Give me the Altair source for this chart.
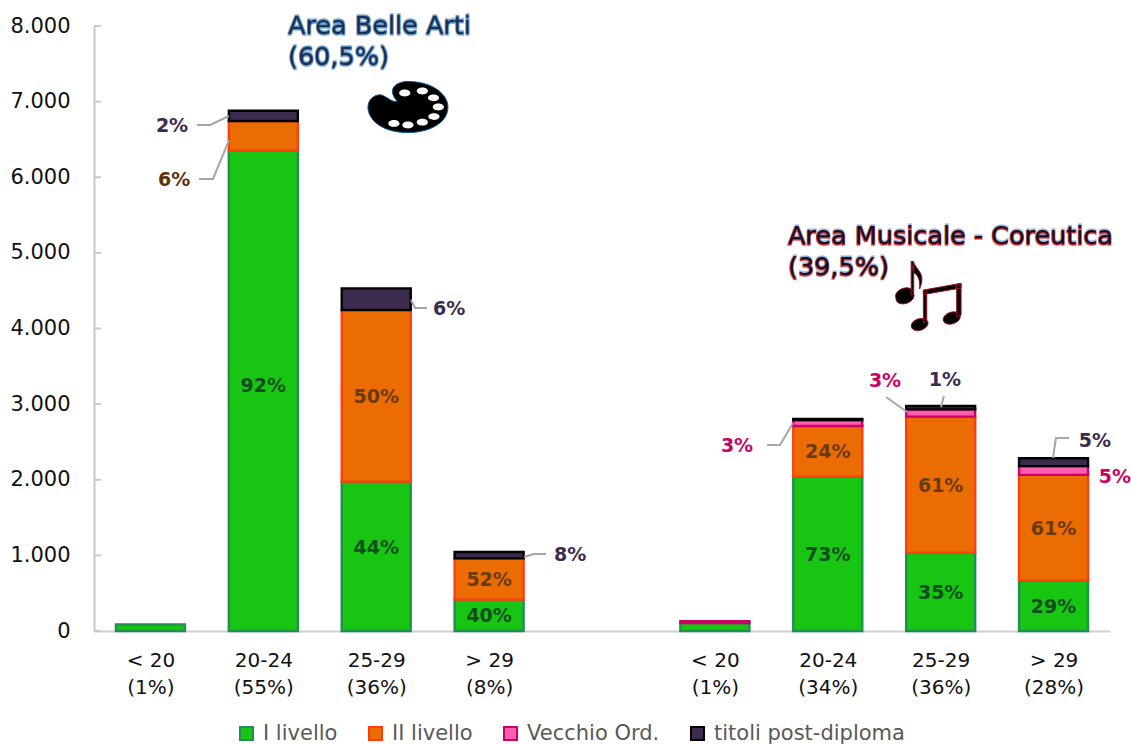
import json
import altair as alt
import pandas as pd

# Stacked enrolment counts by age band, two groups separated by an empty slot
series = ["I livello", "II livello", "Vecchio Ord.", "titoli post-diploma"]
fills = ["#19c513", "#ec6c04", "#ff5db1", "#3c2b4f"]
strokes = ["#1f9050", "#ff3d0f", "#cc0066", "#000000"]

slots = [0.5, 1.5, 2.5, 3.5, 5.5, 6.5, 7.5, 8.5]
ages = ["< 20", "20-24", "25-29", "> 29", "< 20", "20-24", "25-29", "> 29"]
age_shares = ["(1%)", "(55%)", "(36%)", "(8%)", "(1%)", "(34%)", "(36%)", "(28%)"]

level_1 = [85, 6350, 1975, 415, 105, 2040, 1035, 665]
level_2 = [0, 393, 2270, 545, 0, 670, 1800, 1400]
old_order = [0, 0, 0, 0, 25, 80, 95, 115]
post_diploma = [0, 137, 285, 85, 0, 15, 45, 105]
columns = [level_1, level_2, old_order, post_diploma]

# Share labels inside the segments: slot index, series index, text, colour, lift in axis units
inner_labels = [
    (1, 0, "92%", "#0f4f1c", 80), (2, 0, "44%", "#0f4f1c", 120), (3, 0, "40%", "#0f4f1c", 0),
    (5, 0, "73%", "#0f4f1c", 0), (6, 0, "35%", "#0f4f1c", 0), (7, 0, "29%", "#0f4f1c", 0),
    (2, 1, "50%", "#6b3a0c", 0), (3, 1, "52%", "#6b3a0c", 0), (5, 1, "24%", "#6b3a0c", 0),
    (6, 1, "61%", "#6b3a0c", 0), (7, 1, "61%", "#6b3a0c", 0),
]

# Callouts beside the bars, placed in axis units
callout_x = [0.691, 0.709, 3.145, 4.217, 5.696, 7.007, 7.538, 8.867, 9.044]
callout_y = [6691, 5977, 4271, 1018, 2460, 3319, 3332, 2526, 2050]
callout_text = ["2%", "6%", "6%", "8%", "3%", "3%", "1%", "5%", "5%"]
callout_color = ["#3c2b4f", "#5e3209", "#3c2b4f", "#3c2b4f", "#cc0066", "#cc0066",
                 "#3c2b4f", "#3c2b4f", "#cc0066"]

leader_paths = [
    [(0.912, 6691), (1.028, 6691), (1.196, 6810)],
    [(0.930, 5977), (1.054, 5977), (1.196, 6492)],
    [(2.808, 4377), (2.843, 4271), (2.950, 4271)],
    [(3.809, 979), (3.898, 1018), (4.004, 1018)],
    [(5.962, 2460), (6.077, 2460), (6.192, 2750)],
    [(7.016, 3094), (7.202, 2896)],
    [(7.529, 3107), (7.503, 2962)],
    [(8.495, 2288), (8.521, 2552), (8.637, 2552)],
]

group_titles = [
    (1.718, 8000, "Area Belle Arti", "#5f8fc4", "#5f8fc4", "#16304f"),
    (1.718, 7590, "(60,5%)", "#5f8fc4", "#5f8fc4", "#16304f"),
    (6.147, 5225, "Area Musicale - Coreutica", "#8fb0dc", "#c0202c", "#1a1020"),
    (6.147, 4815, "(39,5%)", "#8fb0dc", "#c0202c", "#1a1020"),
]

# Long table with one row per stacked segment
rows = []
for i, slot in enumerate(slots):
    for s, name in enumerate(series):
        rows.append({"slot": slot, "serie": name, "rank": s, "value": columns[s][i]})
bars = pd.DataFrame(rows)
bars = bars[bars["value"] > 0]

fill_scale = alt.Scale(domain=series, range=fills)
stroke_scale = alt.Scale(domain=series, range=strokes)
x_scale = alt.Scale(domain=[0, 9], nice=False, zero=False, padding=0)
y_scale = alt.Scale(domain=[0, 8000], nice=False)

tick_labels = [[a, b] for a, b in zip(ages, age_shares)]
label_expr = (
    "(" + json.dumps({str(int(s)): tick_labels[k] for k, s in enumerate(slots)}) + ")"
    "[floor(datum.value)]"
)

stack = alt.Chart(bars).mark_bar(orient="vertical", size=69, strokeWidth=2.4).encode(
    x=alt.X(
        "slot:Q", scale=x_scale, title=None,
        axis=alt.Axis(
            values=slots, labelExpr=label_expr, ticks=False, grid=False,
            domainColor="#d0d0d0", domainWidth=2, labelFontSize=20,
            labelFont="DejaVu Sans", labelColor="#111111", labelPadding=19,
            labelLineHeight=27, labelOverlap=False, labelBound=False,
        ),
    ),
    y=alt.Y(
        "value:Q", stack="zero", scale=y_scale, title=None,
        axis=alt.Axis(
            values=[0, 1000, 2000, 3000, 4000, 5000, 6000, 7000, 8000],
            labelExpr="replace(format(datum.value, ','), ',', '.')",
            ticks=False, grid=False, domainColor="#c8c8c8", domainWidth=2,
            labelFontSize=21, labelFont="DejaVu Sans", labelColor="#111111",
            labelPadding=24,
        ),
    ),
    order=alt.Order("rank:Q"),
    fill=alt.Fill(
        "serie:N", scale=fill_scale, sort=series,
        legend=alt.Legend(
            title=None, orient="none", legendX=142, legendY=697, direction="horizontal",
            columns=4, symbolType="square", symbolSize=169, symbolStrokeWidth=2,
            labelFont="DejaVu Sans", labelFontSize=21, labelColor="#595959",
            labelOffset=6, columnPadding=27, labelLimit=300,
        ),
    ),
    stroke=alt.Stroke("serie:N", scale=stroke_scale, sort=series),
)

# Inside ticks along the value axis
tick_frame = pd.DataFrame({"v": [0, 1000, 2000, 3000, 4000, 5000, 6000, 7000, 8000]})
ticks = alt.Chart(tick_frame).mark_rule(color="#c8c8c8", strokeWidth=2).encode(
    x=alt.value(0), x2=alt.value(7), y=alt.Y("v:Q", scale=y_scale, title=None),
)

leader_rows = [
    {"path": p, "step": k, "x": x, "y": y}
    for p, pts in enumerate(leader_paths) for k, (x, y) in enumerate(pts)
]
leaders = alt.Chart(pd.DataFrame(leader_rows)).mark_line(
    color="#a6a6a6", strokeWidth=2
).encode(
    x=alt.X("x:Q", scale=x_scale, title=None),
    y=alt.Y("y:Q", scale=y_scale, title=None),
    detail="path:N",
    order="step:Q",
)

layers = [stack, ticks, leaders]


def bold_text(frame, color):
    return alt.Chart(frame).mark_text(
        font="DejaVu Sans", fontWeight="bold", fontSize=19, color=color, dy=1,
    ).encode(
        x=alt.X("x:Q", scale=x_scale, title=None),
        y=alt.Y("y:Q", scale=y_scale, title=None),
        text="label:N",
    )


inner_rows = [
    {"x": slots[i],
     "y": float(columns[s][i] / 2 + sum(columns[k][i] for k in range(s)) + lift),
     "label": t, "color": c}
    for i, s, t, c, lift in inner_labels
]
callout_rows = [
    {"x": x, "y": y, "label": t, "color": c}
    for x, y, t, c in zip(callout_x, callout_y, callout_text, callout_color)
]
label_frame = pd.DataFrame(inner_rows + callout_rows)
for shade in label_frame["color"].unique():
    layers.append(bold_text(label_frame[label_frame["color"] == shade], shade))

# Group headings: a coloured halo above and below, dark text on top
for x, y, text, halo_top, halo_low, ink in group_titles:
    frame = pd.DataFrame({"x": [x], "y": [y], "label": [text]})
    for halo, dy in ((halo_top, -1), (halo_low, 1)):
        layers.append(
            alt.Chart(frame).mark_text(
                font="DejaVu Sans", fontSize=25.5, align="left", dy=dy, color=halo,
                stroke=halo, strokeWidth=1.6, strokeOpacity=0.7,
            ).encode(
                x=alt.X("x:Q", scale=x_scale, title=None),
                y=alt.Y("y:Q", scale=y_scale, title=None),
                text="label:N",
            )
        )
    layers.append(
        alt.Chart(frame).mark_text(
            font="DejaVu Sans", fontSize=25.5, align="left", color=ink,
        ).encode(
            x=alt.X("x:Q", scale=x_scale, title=None),
            y=alt.Y("y:Q", scale=y_scale, title=None),
            text="label:N",
        )
    )

# Palette icon: body and paint wells as custom symbol paths
palette_body = (
    "M-0.27,-0.15 C-0.47,-0.36 -0.43,-0.61 -0.02,-0.64 C0.62,-0.64 1,-0.32 1,0 "
    "C1,0.40 0.53,0.64 0,0.64 C-0.65,0.64 -1,0.32 -1,0 C-1,-0.23 -0.75,-0.36 -0.61,-0.28 "
    "C-0.47,-0.21 -0.38,-0.11 -0.27,-0.15 Z"
)
well_centres = [(-0.08, -0.35), (0.36, -0.40), (0.64, -0.23), (0.76, 0), (0.65, 0.24),
                (0.36, 0.38), (0, 0.45), (-0.35, 0.41)]
palette_wells = " ".join(
    f"M{cx - 0.14:.2f},{cy:.2f} a0.14,0.085 0 1,0 0.28,0 a0.14,0.085 0 1,0 -0.28,0 Z"
    for cx, cy in well_centres
)
icon_x = alt.X("x:Q", scale=x_scale, title=None)
icon_y = alt.Y("y:Q", scale=y_scale, title=None)


def icon(path, x, y, size, fill, stroke, stroke_width):
    frame = pd.DataFrame({"x": [x], "y": [y]})
    return alt.Chart(frame).mark_point(
        shape=path, size=size, filled=True, fill=fill, stroke=stroke,
        strokeWidth=stroke_width, opacity=1,
    ).encode(x=icon_x, y=icon_y)


layers.append(icon(palette_body, 2.781, 6929, 6400, "#000000", "#0a5a9c", 1))
layers.append(icon(palette_wells, 2.781, 6929, 6400, "#ffffff", "#ffffff", 0))

# Eighth note and beamed pair, every subpath wound the same way
eighth_note = (
    "M-0.56,0.70 A0.40,0.27 -20 1 1 0.19,0.49 A0.40,0.27 -20 1 1 -0.56,0.70 Z "
    "M0.09,0.55 L0.09,-0.87 L0.20,-0.87 L0.20,0.49 Z "
    "M0.09,-0.87 L0.19,-0.87 C0.30,-0.50 0.75,-0.40 0.45,0.30 "
    "C0.50,-0.20 0.30,-0.35 0.19,-0.40 Z"
)
beamed_notes = (
    "M-0.96,0.79 A0.33,0.22 -18 1 1 -0.33,0.58 A0.33,0.22 -18 1 1 -0.96,0.79 Z "
    "M0.27,0.54 A0.33,0.22 -18 1 1 0.91,0.33 A0.33,0.22 -18 1 1 0.27,0.54 Z "
    "M-0.50,0.62 L-0.50,-0.64 L-0.37,-0.64 L-0.37,0.55 Z "
    "M0.78,0.38 L0.78,-0.87 L0.95,-0.87 L0.95,0.33 Z "
    "M-0.50,-0.64 L0.95,-0.90 L0.95,-0.72 L-0.50,-0.47 Z"
)
layers.append(icon(eighth_note, 7.22, 4615, 2178, "#000000", "#a01020", 1))
layers.append(icon(beamed_notes, 7.462, 4288, 2704, "#000000", "#a01020", 1))

chart = alt.layer(*layers).properties(
    width=1016,
    height=605,
    padding={"left": 94, "top": 26, "right": 21, "bottom": 113},
    autosize=alt.AutoSizeParams(type="none"),
).configure_view(stroke=None)

chart.save("out.html", embed_options={"renderer": "svg", "actions": False})
